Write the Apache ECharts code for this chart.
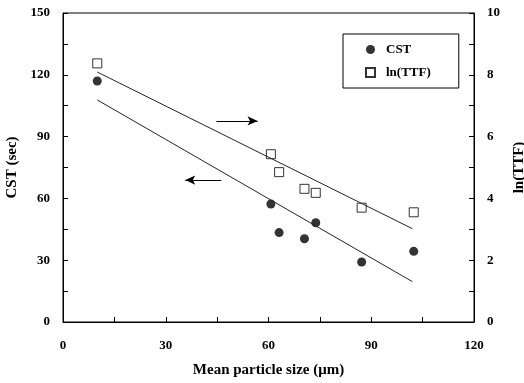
<!DOCTYPE html>
<html>
<head>
<meta charset="utf-8">
<script src="https://cdn.jsdelivr.net/npm/echarts@6/dist/echarts.min.js"></script>
<style>
  html, body { margin: 0; padding: 0; background: #fff; }
  #chart { width: 524px; height: 383px; }
</style>
</head>
<body>
<div id="chart"></div>
<script>
// measured points, [size (um), value]
var cstData = [[10, 117], [60.7, 57.3], [63.1, 43.4], [70.5, 40.4], [73.8, 48.2], [87.2, 29.1], [102.4, 34.3]];
var ttfData = [[10, 8.37], [60.7, 5.43], [63.1, 4.85], [70.5, 4.31], [73.8, 4.18], [87.2, 3.70], [102.4, 3.55]];
// regression lines (end points)
var cstFit = [[10, 107.8], [102, 19.6]];
var ttfFit = [[10, 8.09], [102, 3.02]];
// arrows showing which axis goes with which line
var arrowRight = [[44.8, 97.6], [56.8, 97.6]];
var arrowLeft = [[46.2, 68.9], [35.7, 68.9]];

var font = "'Liberation Serif', 'Times New Roman', serif";
var txt = { color: "#000", fontFamily: font, fontWeight: "bold", fontSize: 13 };
var nameTxt = { color: "#000", fontFamily: font, fontWeight: "bold", fontSize: 15 };

var chart = echarts.init(document.getElementById("chart"));
chart.setOption({
  animation: false,
  textStyle: { fontFamily: font },
  grid: {
    left: 63, right: 50, top: 13, bottom: 61,
    outerBoundsMode: "none",
    containLabel: false,
    show: true, borderColor: "#000", borderWidth: 1
  },
  legend: {
    data: [
      { name: "CST", icon: "circle" },
      { name: "ln(TTF)", icon: "rect" }
    ],
    orient: "vertical",
    left: 343,
    top: 34,
    padding: [9, 28, 9, 22],
    itemGap: 10,
    itemWidth: 9,
    itemHeight: 9,
    borderColor: "#000",
    borderWidth: 1,
    textStyle: Object.assign({ padding: [0, 0, 0, 6] }, txt)
  },
  xAxis: {
    type: "value",
    min: 0, max: 120, interval: 15,
    name: "Mean particle size (\u03bcm)",
    nameLocation: "middle",
    nameGap: 41,
    nameTextStyle: nameTxt,
    axisLine: { lineStyle: { color: "#000" } },
    axisTick: { inside: true, length: 5, lineStyle: { color: "#000" } },
    axisLabel: Object.assign({ margin: 17, formatter: function (v) { return v % 30 === 0 ? v : ""; } }, txt),
    splitLine: { show: false }
  },
  yAxis: [{
    type: "value",
    min: 0, max: 150, interval: 15,
    name: "CST (sec)",
    nameLocation: "middle",
    nameRotate: 90,
    nameGap: 43,
    nameTextStyle: nameTxt,
    axisLine: { show: true, lineStyle: { color: "#000" } },
    axisTick: { inside: true, length: 5, lineStyle: { color: "#000" } },
    axisLabel: Object.assign({ margin: 13, formatter: function (v) { return v % 30 === 0 ? v : ""; } }, txt),
    splitLine: { show: false }
  }, {
    type: "value",
    position: "right",
    min: 0, max: 10, interval: 1,
    name: "ln(TTF)",
    nameLocation: "middle",
    nameRotate: 90,
    nameGap: 38,
    nameTextStyle: nameTxt,
    axisLine: { show: true, lineStyle: { color: "#000" } },
    axisTick: { inside: true, length: 5, lineStyle: { color: "#000" } },
    axisLabel: Object.assign({ margin: 13, formatter: function (v) { return v % 2 === 0 ? v : ""; } }, txt),
    splitLine: { show: false }
  }],
  series: [{
    name: "CST fit",
    type: "line",
    data: cstFit,
    symbol: "none",
    silent: true,
    lineStyle: { color: "#222", width: 1 },
    markLine: {
      silent: true,
      symbol: ["none", "arrow"],
      symbolSize: [7, 10],
      label: { show: false },
      lineStyle: { color: "#000", width: 1, type: "solid" },
      data: [
        [{ coord: arrowRight[0] }, { coord: arrowRight[1] }],
        [{ coord: arrowLeft[0] }, { coord: arrowLeft[1] }]
      ]
    }
  }, {
    name: "ln(TTF) fit",
    type: "line",
    yAxisIndex: 1,
    data: ttfFit,
    symbol: "none",
    silent: true,
    lineStyle: { color: "#222", width: 1 }
  }, {
    name: "CST",
    type: "scatter",
    data: cstData,
    symbol: "circle",
    symbolSize: 9,
    itemStyle: { color: "#000" }
  }, {
    name: "ln(TTF)",
    type: "scatter",
    yAxisIndex: 1,
    data: ttfData,
    symbol: "rect",
    symbolSize: 9,
    itemStyle: { color: "#fff", borderColor: "#000", borderWidth: 1 }
  }]
});
</script>
</body>
</html>
